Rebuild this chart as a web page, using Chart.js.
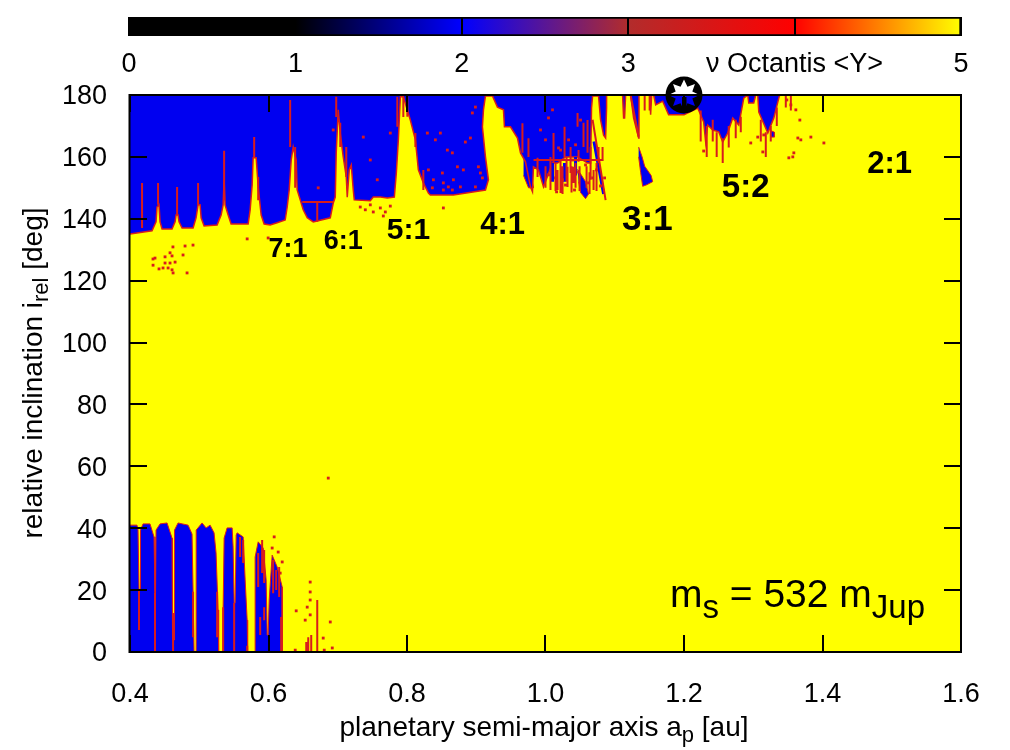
<!DOCTYPE html>
<html>
<head>
<meta charset="utf-8">
<title>nu Octantis map</title>
<script src="https://cdn.jsdelivr.net/npm/chart.js@4/dist/chart.umd.js"></script>
<style>
  html, body { margin: 0; padding: 0; background: #fff; }
  #wrap { position: relative; width: 1010px; height: 750px; }
  canvas { position: absolute; left: 0; top: 0; }
</style>
</head>
<body>
<div id="wrap">
  <canvas id="mapChart" width="1010" height="750"></canvas>
  <canvas id="barChart" width="1010" height="76"></canvas>
</div>
<script>
// colour bar
const barTicks = [0, 1, 2, 3, 4, 5];
const barStops = [0, 1, 2, 3, 4, 5];
const barColors = ['#000000', '#000000', '#0000ff', '#b22c2c', '#ff0000', '#ffff00'];
const barLabel = 'ν Octantis <Y>';

// lower edge of the chaotic region at high inclination [a, i]
const upperEdge = [
  [.4,135.1],[.4318,136.1],[.4376,139],[.439,143.8],[.4419,144.5],[.4434,139],[.4463,136.7],
  [.4607,136.7],[.4651,139],[.4665,141.2],[.4694,141.2],[.4708,139],[.4752,137],
  [.4911,137],[.4954,140.3],[.4983,144.5],[.5012,144.5],[.5027,140.3],[.507,137.7],
  [.5258,138],[.5316,141.2],[.5345,144.5],[.5359,152.6],[.5373,144.5],[.5417,141.2],[.546,138.3],
  [.5706,138.3],[.5735,142.9],[.5764,150.9],[.5778,159.7],[.5822,159.7],[.5851,150.3],[.5894,141.2],[.5937,138.3],
  [.6024,138],[.6125,138.7],[.6241,139.6],[.627,143.8],[.6299,149.3],[.6328,159],[.6357,163.2],[.64,159],[.6414,149.3],
  [.6458,146.1],[.6501,142.9],[.6559,140.3],[.6646,139],[.6892,140.3],[.6935,145.1],[.6964,147],[.6978,161.3],[.7007,175.2],
  [.7036,167.7],[.7079,160],[.7123,153.5],[.7137,147],[.7166,155.8],[.7195,157.4],[.7224,149.3],[.7238,146.1],
  [.747,145.8],[.7513,147],[.7615,147],[.7716,146.7],[.7817,147],[.7846,154.8],[.7875,165.5],[.7904,179.4],[.7947,179.4],
  [.8048,171.9],[.8121,165.5],[.8164,155.8],[.8236,151.6],[.8309,148.3],[.8337,147.7],[.867,147.7],[.9133,149.3],
  [.9176,152.6],[.9133,160],[.9089,169.7],[.9104,175.2],[.9133,179.7],[.9234,179.7],[.9306,176.1],[.9393,175.2],[.9407,169.7],
  [.9494,169.7],[.9595,166.1],[.9639,161.3],[.9711,158.4],[.9783,150.3],[.9812,148.7],[.9826,156.8],[.9899,155.8],[.9971,150.3],
  [1.0101,158],[1.0174,158],[1.0289,160],[1.0463,160],[1.0607,158],[1.0651,158],[1.0665,175.8],[1.068,179.7],
  [1.0766,179.7],[1.0795,172],[1.0839,167],[1.0868,166.1],[1.0882,175.8],[1.0882,180],[1.1113,180],[1.1128,172.6],[1.1142,172.6],[1.1157,180],
  [1.1229,180],[1.1272,172.6],[1.1345,166.1],[1.135,175.8],[1.135,180],[1.1504,180],[1.1518,173.6],[1.1533,180],
  [1.1562,180],[1.1591,176.8],[1.1692,178],[1.1778,173.6],[1.2,173.6],[1.2198,175.8],[1.2284,171.3],[1.2313,164.8],[1.2342,170.3],
  [1.2415,168.7],[1.2501,168.1],[1.2559,164.8],[1.2631,167.7],[1.2704,172.6],[1.2791,170.3],[1.2863,179],[1.2921,180],[1.2935,177.4],
  [1.3007,177.4],[1.3036,180],[1.3065,180],[1.308,174.5],[1.321,167.7],[1.3297,172.6],[1.3369,179],[1.3383,180]
];

// upper edge of the chaotic region at low inclination [a, i]
const lowerEdge = [
  [.4,41],[.4101,41],[.4116,39.4],[.413,20],[.4145,20],[.4152,39.4],
  [.4188,41.4],[.4289,41.4],[.4347,37.2],[.4361,19.1],[.4369,19.1],[.4376,39.4],
  [.4434,41.4],[.4535,41.7],[.4607,36.8],[.4614,3.9],[.4636,3.9],[.4643,39.4],
  [.4694,41.7],[.4839,41],[.4896,38.1],[.4911,19.1],[.4925,0],[.4954,0],[.4956,39.4],
  [.5041,41.7],[.5099,40.1],[.5157,41],[.5214,38.5],[.5243,32],[.5272,13.6],[.528,0],
  [.5345,0],[.5345,14.5],[.5359,36.8],[.5402,40.1],[.5475,40.1],[.5489,33.9],[.5504,15.8],[.5518,15.8],[.5533,37.8],
  [.5547,38.5],[.5634,37.2],[.5663,23.3],[.5692,10.3],[.5699,0],
  [.5807,0],[.5807,30.7],[.5851,35.6],[.5923,33.6],[.5966,23.3],[.5981,5.5],[.5995,5.5],[.601,16.8],
  [.6053,31.3],[.6125,27.5],[.6198,21],[.6198,0]
];

// small separate blue patches, each one closed outline [a, i]
const blueBlobs = [
  [[1.1345,163.2],[1.1395,160],[1.1432,157],[1.1525,154],[1.1547,152],[1.1463,151],[1.1403,150.5],[1.1374,155],[1.1345,160]],
  [[1.0463,156],[1.0507,154.5],[1.0578,152],[1.0622,148],[1.0578,146.5],[1.0506,148.5],[1.0478,152]],
  [[.9683,160],[.9755,158],[.9827,150],[.9755,150],[.9683,154]],
  [[1.325,168.5],[1.3305,168],[1.3305,166.4],[1.325,166.4]]
];

// hand read red streaks: a1, i1, a2, i2
const redStreaks = [
  [.4174,151.6,.4174,137],[.4405,151.6,.4405,144.5],[.468,150.3,.468,141.2],[.4983,151.6,.4983,144.5],
  [.5359,162,.5359,146],[.5793,166.4,.5793,159.7],[.5851,153.5,.5851,146],
  [.6313,178.4,.6313,163.2],[.6385,163.2,.6385,150],[.6978,179.4,.6978,172.9],[.7036,171,.7036,163.2],[.7123,163.2,.7123,153.5],
  [.786,179.4,.786,169.7],[.7947,179.4,.7947,172.9],[.8005,179.4,.8005,173],[.8121,167.7,.8121,163.2],[.8236,155.8,.8236,149.3],
  [.6487,145.4,.6935,145.4],[.6704,145.4,.6704,139],
  [.9667,170.9,.9667,161.3],[.9754,166,.9754,160],[.9885,159.7,.9885,153.5],[1.0072,160,1.0072,149.3],[1.0116,167.7,1.0116,158],
  [1.0174,155.8,1.0174,149.3],[1.0217,159,1.0217,148.3],[1.0275,169.7,1.0275,160],[1.0318,156.8,1.0318,150.3],[1.0362,163.2,1.0362,154.8],
  [1.0405,156.8,1.0405,151.6],[1.0463,174.2,1.0463,169.7],[1.0477,162.2,1.0477,158.4],[1.0549,171,1.0549,163.2],[1.0607,171.9,1.0607,161.3],
  [1.0651,163.2,1.0651,152.6],[1.0694,155.8,1.0694,149.3],[1.0766,163.2,1.0766,158],[1.0824,163.2,1.0824,159],[.9827,159,1.0839,159],
  [1.068,172,1.0868,146],[1.1229,180,1.1345,166.5],[1.1504,180,1.1504,175],[1.1432,180,1.1432,175],
  [1,157,1,150],[1.0145,158,1.0145,149],[1.0246,157,1.0246,148],[1.0304,160,1.0304,152],[1.0376,157,1.0376,148.5],
  [1.0434,158,1.0434,150],[1.0492,157,1.0492,149],[1.0593,157,1.0593,150],[1.0636,155,1.0636,148],[1.0737,158,1.0737,149],
  [1.2241,175,1.2241,165],[1.2328,170,1.2328,160],[1.2415,172,1.2415,165],[1.2472,168,1.2472,160],[1.2559,166,1.2559,158],
  [1.2646,170,1.2646,163],[1.2747,172,1.2747,166],[1.282,173,1.282,168],[1.3109,172,1.3109,165],[1.3181,168,1.3181,160],
  [1.3253,170,1.3253,165],[1.334,176,1.334,170],[1.347,180,1.347,176],[1.3543,180,1.3543,175],
  [.413,20,.413,7.1],[.4361,19.1,.4361,0],[.4622,12.6,.4622,0],[.4911,19.5,.4911,4.8],[.5258,19.5,.5258,4.8],[.5345,14.5,.5345,0],
  [.5504,15.8,.5504,0],[.5692,2,.5692,0],[.5851,32,.5851,21],[.5908,36.2,.5908,25.5],[.5937,33,.5937,22.3],[.588,11.3,.588,5.5],
  [.5937,14.5,.5937,10.3],[.6067,29.7,.6067,19],[.6111,26.5,.6111,20],[.6154,27.5,.6154,17.8],[.6183,11.3,.6183,0],
  [.559,37.2,.559,30.7],[.5634,36.2,.5634,28.8],[.6574,4.8,.6574,0],[.6617,5.5,.6617,0],[.6545,3.2,.6545,0],[.6704,16.8,.6704,0]
];

// hand read blue streaks: a1, i1, a2, i2
const blueStreaks = [
  [1.07,165,1.0839,148],[1.0434,160,1.0434,154],[1.0274,158,1.0274,152],[1.0101,158,1.0101,152]
];

// isolated red points [a, i]
const redSpecks = [
  [.462,130.9],[.4795,131.2],[.491,131.5],[.4578,129],[.4766,128.3],[.4361,127.3],[.4506,127.7],[.4607,128],[.4332,127],
  [.4506,125.7],[.4578,125.7],[.4651,126],[.4333,125],[.4477,124.1],[.455,124.1],[.4419,123.8],[.4622,122.5],[.4824,122.5],[.4607,123.5],
  [.5995,133.8],[.5692,133.5],
  [.8309,155.8],[.8482,167.7],[.8843,164.8],[.8916,166.1],[.8525,151.6],[.8511,154.8],[.867,152.6],[.8728,156.8],[.8655,161.3],[.8814,155.8],
  [.8944,174.2],[.8988,176.1],[.906,154.8],[.9089,153.2],[.9031,156.8],[.8381,152.6],[.8366,150],[.8597,150.3],[.8525,149.3],[.8771,150.3],
  [.8988,150.3],[.8655,149.3],[.8294,167.7],[.8583,162.2],[.841,165.5],[.8525,143.5],
  [.7571,152.6],[.747,159],[.7759,167.7],[.7369,166.4],[.6935,168.7],[.6718,150],
  [.7325,143.8],[.7398,142.9],[.747,144.5],[.7513,142.2],[.7615,143.5],[.7687,142.2],[.7759,144.1],[.7658,140.9],
  [1,165.5],[1.0043,154.2],[1.0145,153.2],[1.0188,162.9],[1.0246,152.6],[1.0289,150.9],[1.0333,165.5],[1.039,159],[1.0419,149.3],
  [1.0477,155.1],[1.0506,171.9],[1.0578,157.4],[1.0622,151.6],[1.068,153.2],[1.0737,155.8],[1.0795,150.6],[1.0853,153.2],[1.016,148.7],
  [1.0217,162.2],[1.0434,163.9],[1.0043,172.6],[.9928,168.7],[1.0101,175.2],
  [1.3673,171.9],[1.3644,166.1],[1.3687,165.5],[1.3586,161.3],[1.3832,166.4],[1.402,164.5],[1.3152,167.1],[1.3065,166.4],[1.2964,164.5],
  [1.2284,161.9],[1.3138,161.6],[1.3571,160],[1.3514,159.7],[1.3485,178.4],[1.3543,176.8],[1.3615,175.2],
  [.6863,56.2],
  [.64,13.3],[.6892,9.7],[.679,4.5],[.6805,.6],[.6921,1.3],[.6386,.6],[.6602,22.6],[.6602,19.4],[.6602,16.8],[.6559,14.5],[.6602,12],[.653,10.3],
  [.6082,37.2],[.6053,33.6],[.614,32.3],[.6198,29.1],[.6169,25.5]
];

// resonance labels
const resonanceNames = ['7:1', '6:1', '5:1', '4:1', '3:1', '5:2', '2:1'];
const resonanceA = [.628, .708, .802, .938, 1.147, 1.289, 1.497];
const resonanceI = [129.9, 132.8, 136.1, 137.7, 139.6, 150, 157.4];
const resonanceSize = [27, 27, 30, 31, 35, 33, 31];

const starPoint = [[1.2, 180]];
const xTickStep = 0.2;
const yTickStep = 20;

const FONT = '"Liberation Sans", Arial, sans-serif';
const BLUE = '#0000f0';
const RED = '#d81c1c';
const YELLOW = '#ffff00';

function toPoints(list) {
  return list.map(p => ({ x: p[0], y: p[1] }));
}

function streakPoints(list) {
  const pts = [];
  list.forEach(s => {
    pts.push({ x: s[0], y: s[1] }, { x: s[2], y: s[3] }, { x: s[2], y: null });
  });
  return pts;
}

// the star symbol: black disc with a star cut out of it
function makeStar() {
  const c = document.createElement('canvas');
  c.width = 40; c.height = 40;
  const g = c.getContext('2d');
  g.fillStyle = '#000';
  g.beginPath(); g.arc(20, 20, 18.5, 0, Math.PI * 2); g.fill();
  g.globalCompositeOperation = 'destination-out';
  g.beginPath();
  for (let k = 0; k < 16; k++) {
    const r = k % 2 ? 9 : 15.5;
    const t = k * Math.PI / 8 - Math.PI / 2;
    g.lineTo(20 + r * Math.cos(t), 20 + r * Math.sin(t));
  }
  g.closePath(); g.fill();
  g.globalCompositeOperation = 'source-over';
  g.fillRect(18, 22, 1.5, 12);
  g.fillRect(21, 22, 1.5, 12);
  return c;
}

// text with subscripts, runs = [[text, isSub], ...]
function runsWidth(ctx, runs, size, subSize) {
  let w = 0;
  runs.forEach(r => {
    ctx.font = (r[1] ? subSize : size) + 'px ' + FONT;
    w += ctx.measureText(r[0]).width;
  });
  return w;
}

function drawRuns(ctx, runs, x, y, size, subSize, drop) {
  let cx = x;
  ctx.textAlign = 'left';
  ctx.textBaseline = 'alphabetic';
  runs.forEach(r => {
    ctx.font = (r[1] ? subSize : size) + 'px ' + FONT;
    ctx.fillText(r[0], cx, r[1] ? y + drop : y);
    cx += ctx.measureText(r[0]).width;
  });
}

const mapDecor = {
  id: 'mapDecor',
  beforeDatasetsDraw(chart) {
    const { ctx, chartArea: a } = chart;
    ctx.save();
    ctx.fillStyle = YELLOW;
    ctx.fillRect(a.left, a.top, a.width, a.height);
    ctx.restore();
  },
  afterDatasetsDraw(chart) {
    const { ctx, chartArea: a, scales } = chart;
    ctx.save();
    ctx.strokeStyle = '#000';
    ctx.lineWidth = 2;
    ctx.strokeRect(a.left - 0.5, a.top, a.width + 0.5, a.height);
    // inward ticks on all four sides
    ctx.beginPath();
    scales.x.ticks.forEach(t => {
      const p = Math.round(scales.x.getPixelForValue(t.value));
      ctx.moveTo(p, a.bottom); ctx.lineTo(p, a.bottom - 17);
      ctx.moveTo(p, a.top); ctx.lineTo(p, a.top + 17);
    });
    scales.y.ticks.forEach(t => {
      const p = Math.round(scales.y.getPixelForValue(t.value));
      ctx.moveTo(a.left, p); ctx.lineTo(a.left + 17, p);
      ctx.moveTo(a.right, p); ctx.lineTo(a.right - 17, p);
    });
    ctx.stroke();

    ctx.fillStyle = '#000';
    ctx.textAlign = 'center';
    ctx.textBaseline = 'middle';
    resonanceNames.forEach((n, k) => {
      ctx.font = 'bold ' + resonanceSize[k] + 'px ' + FONT;
      ctx.fillText(n, scales.x.getPixelForValue(resonanceA[k]), scales.y.getPixelForValue(resonanceI[k]));
    });

    drawRuns(ctx, [['m', 0], ['s', 1], [' = 532 m', 0], ['Jup', 1]], 670, 607, 39, 33, 11);

    const xTitle = [['planetary semi-major axis a', 0], ['p', 1], [' [au]', 0]];
    drawRuns(ctx, xTitle, 544 - runsWidth(ctx, xTitle, 28, 22) / 2, 736, 28, 22, 6);

    const yTitle = [['relative inclination i', 0], ['rel', 1], [' [deg]', 0]];
    ctx.translate(42, 373);
    ctx.rotate(-Math.PI / 2);
    drawRuns(ctx, yTitle, -runsWidth(ctx, yTitle, 28, 22) / 2, 0, 28, 22, 6);
    ctx.restore();
  }
};

function lineSet(points, extra) {
  return Object.assign({
    data: points,
    showLine: true,
    pointRadius: 0,
    borderWidth: 0,
    tension: 0,
    spanGaps: false
  }, extra);
}

new Chart(document.getElementById('mapChart'), {
  type: 'scatter',
  data: {
    datasets: [
      { label: 'star', data: toPoints(starPoint), pointStyle: makeStar(), pointRadius: 20, clip: false, order: 0 },
      { label: 'specks', data: toPoints(redSpecks), pointStyle: 'rect', pointRadius: 2, pointBorderWidth: 0, backgroundColor: RED, order: 1 },
      lineSet(streakPoints(redStreaks), { label: 'red streaks', borderColor: RED, borderWidth: 2, order: 2 }),
      lineSet(streakPoints(blueStreaks), { label: 'blue streaks', borderColor: BLUE, borderWidth: 3, order: 3 }),
      lineSet(toPoints(upperEdge), { label: 'upper', borderColor: RED, borderWidth: 1.5, backgroundColor: BLUE, fill: 'end', order: 4 }),
      lineSet(toPoints(lowerEdge), { label: 'lower', borderColor: RED, borderWidth: 1, backgroundColor: BLUE, fill: 'start', order: 4 })
    ].concat(blueBlobs.map((b, k) => lineSet(toPoints(b), {
      label: 'patch ' + k, borderColor: RED, borderWidth: 1, backgroundColor: BLUE, fill: 'shape', order: 4
    })))
  },
  options: {
    responsive: false,
    animation: false,
    layout: { padding: { top: 95, right: 49, left: 0, bottom: 0 } },
    plugins: { legend: { display: false }, tooltip: { enabled: false } },
    scales: {
      x: {
        type: 'linear', min: 0.4, max: 1.6,
        afterFit(s) { s.height = 98; },
        grid: { display: false },
        border: { display: false },
        ticks: {
          stepSize: xTickStep, color: '#000', padding: 18, maxRotation: 0,
          font: { family: FONT, size: 27 },
          callback: v => v.toFixed(1)
        }
      },
      y: {
        min: 0, max: 180,
        afterFit(s) { s.width = 130; },
        grid: { display: false },
        border: { display: false },
        ticks: {
          stepSize: yTickStep, color: '#000', padding: 15, labelOffset: 2,
          font: { family: FONT, size: 27 }
        }
      }
    }
  },
  plugins: [mapDecor]
});

// gradient has to wait for the scale to be laid out
const barGradient = {
  id: 'barGradient',
  beforeDatasetsDraw(chart) {
    const sc = chart.scales.x;
    const g = chart.ctx.createLinearGradient(sc.left, 0, sc.right, 0);
    barStops.forEach((s, k) => g.addColorStop(s / 5, barColors[k]));
    chart.getDatasetMeta(0).data[0].options.backgroundColor = g;
  }
};

new Chart(document.getElementById('barChart'), {
  type: 'bar',
  data: {
    labels: [''],
    datasets: [{
      data: [[barTicks[0], barTicks[barTicks.length - 1]]],
      borderColor: '#000',
      borderWidth: 2,
      borderSkipped: false,
      barPercentage: 1,
      categoryPercentage: 1,
      backgroundColor: '#000'
    }]
  },
  options: {
    indexAxis: 'y',
    responsive: false,
    animation: false,
    layout: { padding: { top: 17, right: 49, left: 129, bottom: 0 } },
    plugins: { legend: { display: false }, tooltip: { enabled: false } },
    scales: {
      y: { display: false },
      x: {
        type: 'linear', min: 0, max: 5,
        afterFit(s) { s.height = 40; },
        border: { display: false },
        grid: { color: '#000', lineWidth: 2, drawTicks: false, z: 1 },
        ticks: {
          stepSize: 1, color: '#000', padding: 12, maxRotation: 0, autoSkip: false,
          font: { family: FONT, size: 27 },
          callback: v => (v === 4 ? barLabel : String(v))
        }
      }
    }
  },
  plugins: [barGradient]
});
</script>
</body>
</html>
